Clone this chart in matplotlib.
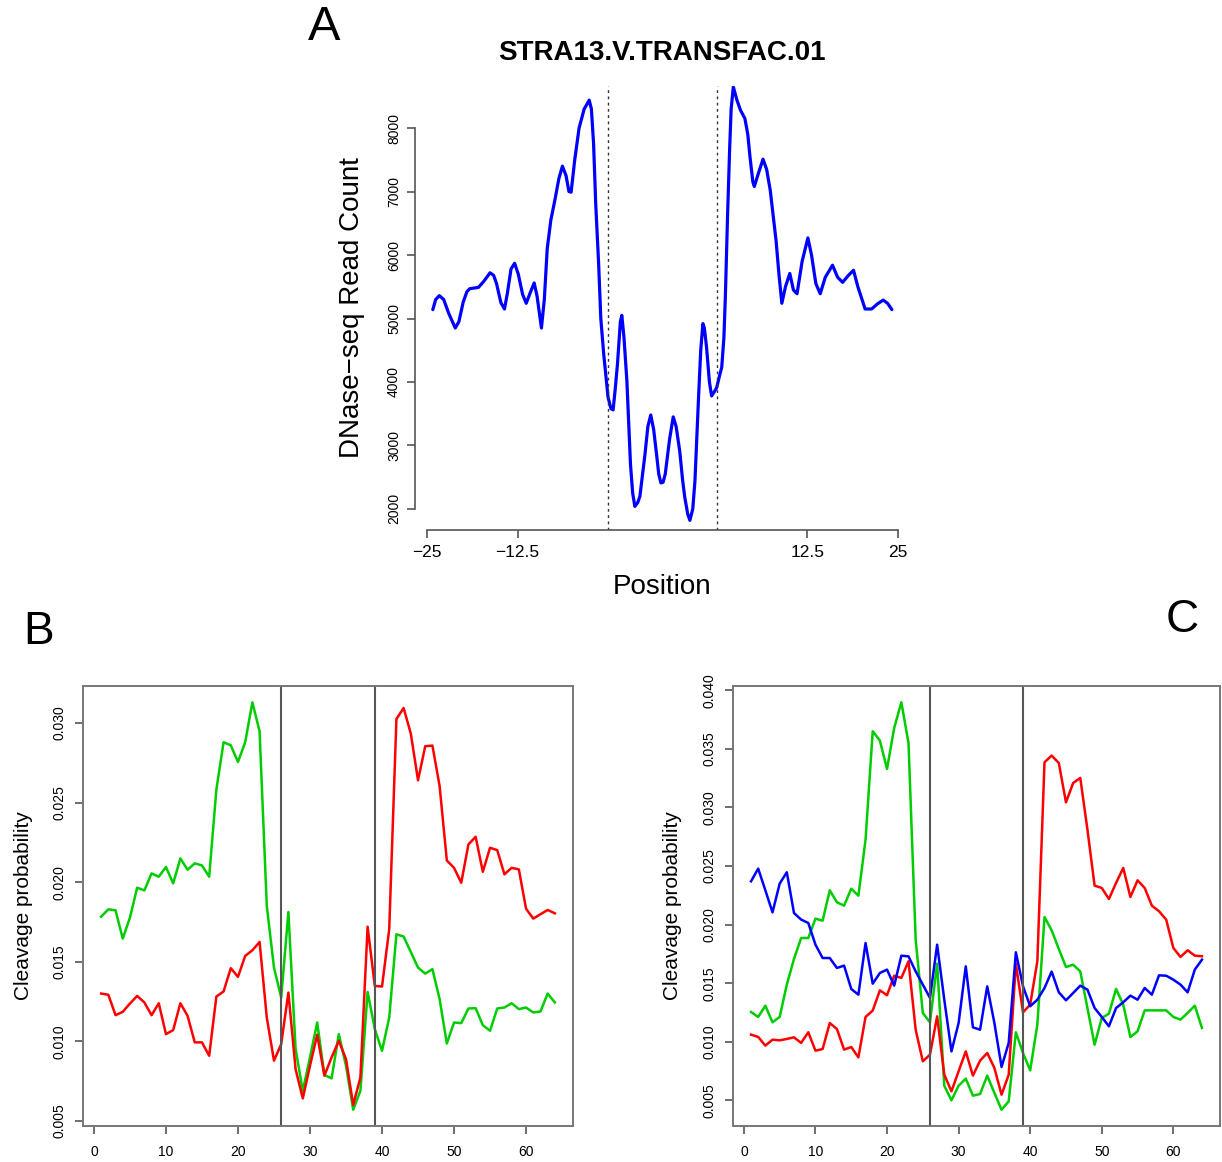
import numpy as np
import matplotlib
matplotlib.use("Agg")
import matplotlib.pyplot as plt

plt.rcParams['font.family'] = ['Liberation Sans', 'DejaVu Sans']

# --- Panel A: smoothed DNase-seq read count around the motif ---
# x is an offset track: 0-25 left flank, 25-40 motif, 40-65 right flank
pos_a = [0.8, 1.2, 1.7, 2.3, 3.0, 3.9, 4.4, 5.0, 5.5, 5.9,
         7.1, 7.8, 8.7, 9.2, 9.6, 10.2, 10.7, 11.1, 11.6, 12.1,
         12.6, 13.2, 13.7, 14.3, 14.8, 15.2, 15.8, 16.2, 16.6, 17.1,
         17.7, 18.2, 18.7, 19.2, 19.6, 19.9, 20.4, 21.0, 21.7, 22.4,
         22.7, 23.0, 23.3, 23.7, 24.0, 24.4, 25.0, 25.4, 25.7, 26.0,
         26.3, 26.7, 26.9, 27.2, 27.6, 28.1, 28.4, 28.7, 29.1, 29.4,
         30.1, 30.5, 30.9, 31.3, 31.7, 32.0, 32.3, 32.6, 32.9, 33.5,
         34.0, 34.4, 34.9, 35.3, 35.6, 36.0, 36.3, 36.7, 37.0, 37.5,
         37.8, 38.1, 38.3, 38.6, 39.0, 39.3, 39.7, 40.0, 40.4, 40.7,
         41.0, 41.2, 41.5, 41.8, 42.0, 42.3, 42.8, 43.3, 43.9, 44.3,
         44.6, 45.0, 45.2, 45.8, 46.4, 46.9, 47.4, 48.2, 48.6, 49.0,
         49.5, 50.1, 50.6, 51.1, 51.8, 52.6, 53.1, 53.7, 54.3, 55.0,
         56.0, 56.7, 57.4, 58.2, 58.9, 59.5, 60.5, 61.4, 62.2, 63.0,
         63.6, 64.2]
counts_a = [5140, 5300, 5360, 5300, 5080, 4850, 4950, 5260, 5420, 5470,
            5490, 5580, 5720, 5680, 5550, 5250, 5150, 5400, 5780, 5870,
            5700, 5380, 5240, 5420, 5560, 5350, 4850, 5300, 6100, 6550,
            6890, 7200, 7400, 7250, 7000, 6990, 7500, 8000, 8300, 8440,
            8300, 7760, 6800, 5860, 5000, 4440, 3760, 3580, 3560, 3900,
            4280, 4950, 5050, 4700, 4020, 2700, 2250, 2040, 2100, 2200,
            2860, 3300, 3480, 3250, 2860, 2550, 2410, 2420, 2550, 3100,
            3450, 3300, 2910, 2450, 2180, 1920, 1820, 2000, 2440, 3760,
            4500, 4920, 4850, 4550, 4000, 3780, 3850, 3910, 4100, 4230,
            4700, 5340, 6600, 7700, 8300, 8650, 8440, 8280, 8150, 7900,
            7550, 7150, 7080, 7300, 7510, 7350, 7020, 6230, 5700, 5240,
            5500, 5710, 5450, 5390, 5900, 6270, 6000, 5550, 5390, 5650,
            5840, 5650, 5570, 5680, 5760, 5500, 5150, 5150, 5230, 5290,
            5240, 5140]
motif_a = [25, 40]
xticks_a = [0, 12.5, 52.5, 65]
xlabels_a = ['\u221225', '\u221212.5', '12.5', '25']

# --- Panels B and C: cleavage probability per position ---
positions = np.arange(1, 65)
motif_bc = [26, 39]

b_green = [0.01783, 0.01829, 0.01823, 0.01645, 0.01777, 0.01965, 0.01948, 0.02055,
           0.02034, 0.02095, 0.01992, 0.02149, 0.02078, 0.02118, 0.02105, 0.02034,
           0.02582, 0.02879, 0.02860, 0.02755, 0.02879, 0.03130, 0.02948, 0.01850,
           0.01463, 0.01275, 0.01812, 0.00951, 0.00689, 0.00899, 0.01118, 0.00788,
           0.00767, 0.01045, 0.00846, 0.00570, 0.00689, 0.01310, 0.01076, 0.00940,
           0.01149, 0.01672, 0.01658, 0.01561, 0.01463, 0.01425, 0.01453, 0.01265,
           0.00986, 0.01118, 0.01114, 0.01206, 0.01208, 0.01101, 0.01066, 0.01206,
           0.01212, 0.01239, 0.01202, 0.01212, 0.01181, 0.01187, 0.01300, 0.01244]
b_red = [0.01300, 0.01292, 0.01164, 0.01185, 0.01237, 0.01285, 0.01244, 0.01164,
         0.01239, 0.01045, 0.01070, 0.01239, 0.01160, 0.00993, 0.00993, 0.00909,
         0.01281, 0.01313, 0.01459, 0.01405, 0.01536, 0.01572, 0.01624, 0.01149,
         0.00878, 0.00982, 0.01306, 0.00825, 0.00641, 0.00846, 0.01041, 0.00784,
         0.00899, 0.01003, 0.00888, 0.00600, 0.00773, 0.01720, 0.01348, 0.01344,
         0.01704, 0.03025, 0.03094, 0.02933, 0.02640, 0.02854, 0.02858, 0.02603,
         0.02136, 0.02090, 0.01996, 0.02237, 0.02285, 0.02065, 0.02216, 0.02201,
         0.02049, 0.02090, 0.02080, 0.01833, 0.01771, 0.01798, 0.01825, 0.01804]

c_green = [0.01254, 0.01212, 0.01308, 0.01166, 0.01212, 0.01488, 0.01707, 0.01886,
           0.01886, 0.02051, 0.02034, 0.02293, 0.02191, 0.02162, 0.02307, 0.02247,
           0.02726, 0.03651, 0.03571, 0.03329, 0.03679, 0.03898, 0.03551, 0.01872,
           0.01246, 0.01166, 0.01667, 0.00625, 0.00500, 0.00625, 0.00685, 0.00540,
           0.00554, 0.00711, 0.00563, 0.00420, 0.00491, 0.01081, 0.00904, 0.00756,
           0.01146, 0.02065, 0.01951, 0.01792, 0.01638, 0.01658, 0.01601, 0.01288,
           0.00975, 0.01203, 0.01240, 0.01451, 0.01317, 0.01041, 0.01089, 0.01268,
           0.01268, 0.01268, 0.01268, 0.01212, 0.01189, 0.01246, 0.01308, 0.01118]
c_red = [0.01061, 0.01041, 0.00967, 0.01018, 0.01012, 0.01024, 0.01038, 0.00990,
         0.01081, 0.00924, 0.00938, 0.01160, 0.01109, 0.00933, 0.00955, 0.00867,
         0.01212, 0.01266, 0.01439, 0.01397, 0.01564, 0.01545, 0.01687, 0.01103,
         0.00833, 0.00890, 0.01217, 0.00719, 0.00577, 0.00748, 0.00918, 0.00711,
         0.00839, 0.00904, 0.00776, 0.00548, 0.00719, 0.01667, 0.01251, 0.01317,
         0.01687, 0.03386, 0.03443, 0.03380, 0.03044, 0.03209, 0.03252, 0.02811,
         0.02333, 0.02313, 0.02219, 0.02356, 0.02484, 0.02236, 0.02378, 0.02313,
         0.02162, 0.02114, 0.02043, 0.01801, 0.01724, 0.01781, 0.01735, 0.01730]
c_blue = [0.02370, 0.02478, 0.02293, 0.02105, 0.02350, 0.02447, 0.02099, 0.02043,
          0.02014, 0.01829, 0.01715, 0.01715, 0.01630, 0.01650, 0.01451, 0.01402,
          0.01843, 0.01496, 0.01587, 0.01616, 0.01479, 0.01735, 0.01729, 0.01601,
          0.01488, 0.01374, 0.01829, 0.01359, 0.00918, 0.01160, 0.01644, 0.01123,
          0.01103, 0.01473, 0.01160, 0.00785, 0.00990, 0.01764, 0.01473, 0.01303,
          0.01359, 0.01459, 0.01599, 0.01422, 0.01354, 0.01416, 0.01479, 0.01445,
          0.01288, 0.01212, 0.01132, 0.01288, 0.01337, 0.01394, 0.01359, 0.01459,
          0.01402, 0.01567, 0.01564, 0.01530, 0.01488, 0.01422, 0.01616, 0.01701]

W, H = 1222, 1162
fig = plt.figure(figsize=(W / 100, H / 100), dpi=100)


def box(left, top, right, bottom):
    # pixel box -> figure fraction rect
    return [left / W, 1 - bottom / H, (right - left) / W, (bottom - top) / H]


def ftext(x, y, s, **kw):
    fig.text(x / W, 1 - y / H, s, ha='center', va='center', **kw)


axis_col = '#555555'
box_col = '#777777'

# ---------------- A ----------------
ax = fig.add_axes(box(415, 86, 910, 530))
ax.plot(pos_a, counts_a, color='#0000FF', lw=2.3,
        solid_joinstyle='round', solid_capstyle='round')
for m in motif_a:
    ax.axvline(m, color='#333333', lw=1.0, ls=(0, (2, 2.5)))
ax.set_xlim(-1.66, 66.7)
ax.set_ylim(1668, 8663)
for s in ['top', 'right']:
    ax.spines[s].set_visible(False)
ax.spines['left'].set_bounds(2000, 8000)
ax.spines['bottom'].set_bounds(0, 65)
for s in ['left', 'bottom']:
    ax.spines[s].set_color(axis_col)
    ax.spines[s].set_linewidth(1.2)
ax.set_xticks(xticks_a)
ax.set_xticklabels(xlabels_a, fontsize=12.5)
ax.set_yticks(range(2000, 8001, 1000))
ax.set_yticklabels([str(v) for v in range(2000, 8001, 1000)], fontsize=10,
                   rotation=90, va='center')
ax.tick_params(axis='both', length=6, width=1.2, color=axis_col)
ax.tick_params(axis='x', pad=5)
ax.tick_params(axis='y', pad=4)

ftext(662, 53, 'STRA13.V.TRANSFAC.01', fontsize=20, fontweight='bold')
ftext(662, 587, 'Position', fontsize=20)
ftext(352, 308, 'DNase\u2212seq Read Count', fontsize=20, rotation=90)
ftext(324, 28, 'A', fontsize=35)


def cleavage_panel(rect, series, yticks):
    axp = fig.add_axes(rect)
    for vals, col in series:
        axp.plot(positions, vals, color=col, lw=1.8)
    for m in motif_bc:
        axp.axvline(m, color='#555555', lw=1.5)
    axp.set_xlim(-1.52, 66.52)
    allv = np.concatenate([np.asarray(v) for v, _ in series])
    pad = 0.04 * (allv.max() - allv.min())
    axp.set_ylim(allv.min() - pad, allv.max() + pad)
    for s in axp.spines.values():
        s.set_color(box_col)
        s.set_linewidth(1.4)
    axp.set_xticks(range(0, 61, 10))
    axp.set_xticklabels([str(v) for v in range(0, 61, 10)], fontsize=10)
    axp.set_yticks(yticks)
    axp.set_yticklabels(['%.3f' % v for v in yticks], fontsize=10,
                        rotation=90, va='center')
    axp.tick_params(axis='both', length=6, width=1.2, color=axis_col)
    axp.tick_params(axis='x', pad=8)
    axp.tick_params(axis='y', pad=6)
    return axp


cleavage_panel(box(83, 686, 573, 1126),
               [(b_green, '#00CD00'), (b_red, '#FF0000')],
               [0.005, 0.010, 0.015, 0.020, 0.025, 0.030])
ftext(24, 906, 'Cleavage probability', fontsize=15, rotation=90)
ftext(39, 632, 'B', fontsize=33)

cleavage_panel(box(733, 686, 1220, 1126),
               [(c_green, '#00CD00'), (c_red, '#FF0000'), (c_blue, '#0000FF')],
               [0.005, 0.010, 0.015, 0.020, 0.025, 0.030, 0.035, 0.040])
ftext(672, 906, 'Cleavage probability', fontsize=15, rotation=90)
ftext(1182, 620, 'C', fontsize=33)

fig.savefig('out.png', dpi=100)
